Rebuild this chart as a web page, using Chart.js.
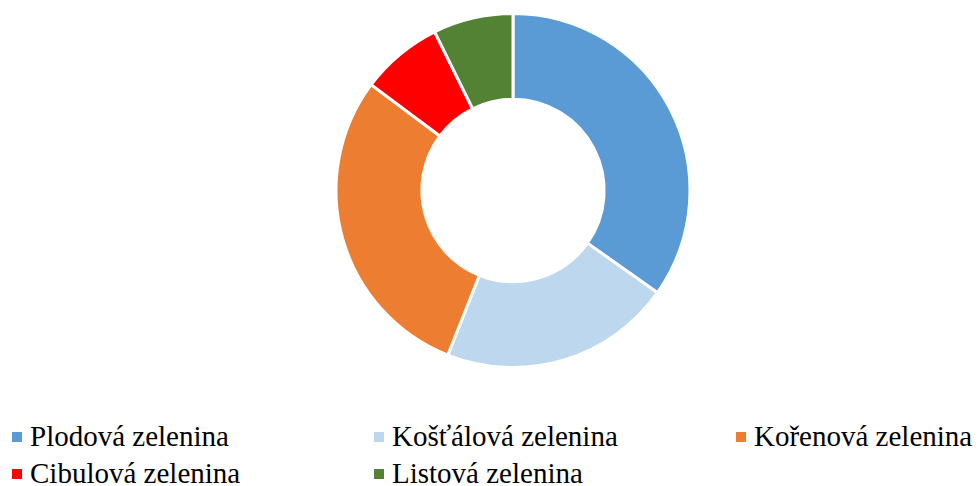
<!DOCTYPE html>
<html>
<head>
<meta charset="utf-8">
<script src="https://cdn.jsdelivr.net/npm/chart.js@4/dist/chart.umd.min.js"></script>
<style>
  html, body { margin: 0; padding: 0; background: #fff; }
  #wrap { position: relative; width: 979px; height: 486px; overflow: hidden; }
  #chartBox { position: absolute; left: 0; top: 0; width: 979px; height: 381px; }
  #legend { position: absolute; left: 12px; top: 420px; width: 967px;
    display: grid; grid-template-columns: 362px 362px 243px; row-gap: 4px;
    font-family: "Times New Roman", "Liberation Serif", Tinos, "DejaVu Serif", serif; font-size: 29px; color: #000; }
  .item { display: flex; align-items: center; height: 33px; white-space: nowrap; }
  .sw { width: 10px; height: 10px; margin-right: 8px; flex: none; }
</style>
</head>
<body>
<div id="wrap">
  <div id="chartBox"><canvas id="c"></canvas></div>
  <div id="legend"></div>
</div>
<script>
const categories = ["Plodová zelenina", "Košťálová zelenina", "Kořenová zelenina", "Cibulová zelenina", "Listová zelenina"];
const shares = [34.8, 21.2, 29.2, 7.5, 7.3];
const colors = ["#5B9BD5", "#BDD7EE", "#ED7D31", "#FF0000", "#548235"];

const legend = document.getElementById('legend');
categories.forEach((name, i) => {
  const d = document.createElement('div');
  d.className = 'item';
  const s = document.createElement('span');
  s.className = 'sw';
  s.style.background = colors[i];
  const t = document.createElement('span');
  t.textContent = name;
  d.appendChild(s); d.appendChild(t);
  legend.appendChild(d);
});

new Chart(document.getElementById('c'), {
  type: 'doughnut',
  data: {
    labels: categories,
    datasets: [{
      data: shares,
      backgroundColor: colors,
      borderColor: '#ffffff',
      borderWidth: 3,
      hoverOffset: 0
    }]
  },
  options: {
    responsive: true,
    maintainAspectRatio: false,
    animation: false,
    cutout: '51.5%',
    layout: { padding: { left: 47, top: 12, bottom: 12, right: 0 } },
    plugins: { legend: { display: false }, tooltip: { enabled: false } }
  }
});
</script>
</body>
</html>
